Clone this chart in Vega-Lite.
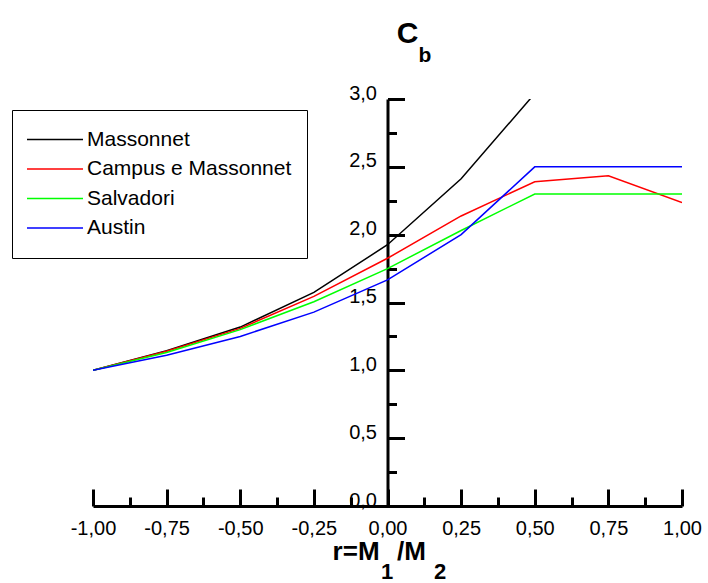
{
  "$schema": "https://vega.github.io/schema/vega-lite/v6.json",
  "width": 589,
  "height": 407,
  "autosize": {"type": "none"},
  "padding": {"left": 93, "top": 99, "right": 26, "bottom": 77},
  "background": "white",
  "config": {
    "view": {"stroke": null},
    "font": "Liberation Sans",
    "text": {"font": "Liberation Sans", "color": "black"}
  },
  "datasets": {
    "curves": [
      {"r": -1.0, "Cb": 1.0, "series": "Massonnet"},
      {"r": -0.75, "Cb": 1.144, "series": "Massonnet"},
      {"r": -0.5, "Cb": 1.319, "series": "Massonnet"},
      {"r": -0.25, "Cb": 1.574, "series": "Massonnet"},
      {"r": 0.0, "Cb": 1.926, "series": "Massonnet"},
      {"r": 0.25, "Cb": 2.412, "series": "Massonnet"},
      {"r": 0.5, "Cb": 3.04, "series": "Massonnet"},
      {"r": -1.0, "Cb": 1.0, "series": "Campus e Massonnet"},
      {"r": -0.75, "Cb": 1.14, "series": "Campus e Massonnet"},
      {"r": -0.5, "Cb": 1.309, "series": "Campus e Massonnet"},
      {"r": -0.25, "Cb": 1.545, "series": "Campus e Massonnet"},
      {"r": 0.0, "Cb": 1.826, "series": "Campus e Massonnet"},
      {"r": 0.25, "Cb": 2.138, "series": "Campus e Massonnet"},
      {"r": 0.5, "Cb": 2.39, "series": "Campus e Massonnet"},
      {"r": 0.75, "Cb": 2.434, "series": "Campus e Massonnet"},
      {"r": 1.0, "Cb": 2.236, "series": "Campus e Massonnet"},
      {"r": -1.0, "Cb": 1.0, "series": "Salvadori"},
      {"r": -0.75, "Cb": 1.131, "series": "Salvadori"},
      {"r": -0.5, "Cb": 1.3, "series": "Salvadori"},
      {"r": -0.25, "Cb": 1.506, "series": "Salvadori"},
      {"r": 0.0, "Cb": 1.75, "series": "Salvadori"},
      {"r": 0.25, "Cb": 2.031, "series": "Salvadori"},
      {"r": 0.5, "Cb": 2.3, "series": "Salvadori"},
      {"r": 0.75, "Cb": 2.3, "series": "Salvadori"},
      {"r": 1.0, "Cb": 2.3, "series": "Salvadori"},
      {"r": -1.0, "Cb": 1.0, "series": "Austin"},
      {"r": -0.75, "Cb": 1.111, "series": "Austin"},
      {"r": -0.5, "Cb": 1.25, "series": "Austin"},
      {"r": -0.25, "Cb": 1.429, "series": "Austin"},
      {"r": 0.0, "Cb": 1.667, "series": "Austin"},
      {"r": 0.25, "Cb": 2.0, "series": "Austin"},
      {"r": 0.5, "Cb": 2.5, "series": "Austin"},
      {"r": 0.75, "Cb": 2.5, "series": "Austin"},
      {"r": 1.0, "Cb": 2.5, "series": "Austin"}
    ],
    "one": [{"label": "title"}]
  },
  "resolve": {"axis": {"x": "independent", "y": "independent"}},
  "layer": [
    {
      "data": {"name": "curves"},
      "mark": {"type": "line", "clip": true, "strokeWidth": 1.5},
      "encoding": {
        "x": {
          "field": "r", "type": "quantitative",
          "scale": {"domain": [-1, 1], "nice": false, "zero": false},
          "axis": {
            "orient": "bottom", "title": null, "grid": false,
            "values": [-1, -0.75, -0.5, -0.25, 0, 0.25, 0.5, 0.75, 1],
            "labelExpr": "(datum.value < 0 ? '-' : '') + replace(format(abs(datum.value), '.2f'), '.', ',')",
            "domainColor": "black", "domainWidth": 3,
            "tickColor": "black", "tickWidth": 3, "tickSize": -17,
            "labelPadding": 29, "labelBaseline": "top", "labelFontSize": 20,
            "labelFont": "Liberation Sans", "labelColor": "black",
            "labelFlush": false, "labelOverlap": false
          }
        },
        "y": {
          "field": "Cb", "type": "quantitative",
          "scale": {"domain": [0, 3], "nice": false, "zero": true},
          "axis": {
            "orient": "left", "offset": -294.5, "title": null, "grid": false,
            "values": [0, 0.5, 1, 1.5, 2, 2.5, 3],
            "labelExpr": "replace(format(datum.value, '.1f'), '.', ',')",
            "domainColor": "black", "domainWidth": 3,
            "tickColor": "black", "tickWidth": 3, "tickSize": -17,
            "labelPadding": 28, "labelAlign": "right", "labelBaseline": "alphabetic",
            "labelFontSize": 20, "labelFont": "Liberation Sans", "labelColor": "black",
            "labelFlush": false, "labelOverlap": false
          }
        },
        "color": {
          "field": "series", "type": "nominal",
          "scale": {
            "domain": ["Massonnet", "Campus e Massonnet", "Salvadori", "Austin"],
            "range": ["#000000", "#ff0000", "#00ff00", "#0000ff"]
          },
          "legend": {
            "title": null, "orient": "none", "legendX": -81, "legendY": 11,
            "symbolType": "stroke", "symbolSize": 3249, "symbolStrokeWidth": 1.5,
            "labelFont": "Liberation Sans", "labelFontSize": 21, "labelColor": "black",
            "labelLimit": 400, "clipHeight": 29, "rowPadding": 0.5, "padding": 15,
            "labelOffset": 3, "symbolOffset": -2,
            "strokeColor": "black", "fillColor": "white"
          }
        }
      }
    },
    {
      "data": {"name": "one"},
      "mark": {"type": "text", "align": "left", "baseline": "alphabetic", "fontSize": 30, "fontWeight": "bold", "font": "Liberation Sans"},
      "encoding": {
        "text": {"value": "C"},
        "x": {
          "datum": 0.0316, "type": "quantitative",
          "axis": {
            "orient": "bottom", "title": null, "grid": false, "labels": false, "domain": false,
            "values": [-0.875, -0.625, -0.375, -0.125, 0.125, 0.375, 0.625, 0.875],
            "tickColor": "black", "tickWidth": 3, "tickSize": -9
          }
        },
        "y": {
          "datum": 3.414, "type": "quantitative",
          "axis": {
            "orient": "left", "offset": -294.5, "title": null, "grid": false, "labels": false, "domain": false,
            "values": [0.25, 0.75, 1.25, 1.75, 2.25, 2.75],
            "tickColor": "black", "tickWidth": 3, "tickSize": -9
          }
        }
      }
    },
    {
      "data": {"name": "one"},
      "mark": {"type": "text", "align": "left", "baseline": "alphabetic", "fontSize": 21, "fontWeight": "bold", "font": "Liberation Sans"},
      "encoding": {
        "text": {"value": "b"},
        "x": {"datum": 0.1054, "type": "quantitative", "axis": null},
        "y": {"datum": 3.276, "type": "quantitative", "axis": null}
      }
    },
    {
      "data": {"name": "one"},
      "mark": {"type": "text", "align": "right", "baseline": "alphabetic", "fontSize": 26, "fontWeight": "bold", "font": "Liberation Sans"},
      "encoding": {
        "text": {"value": "r=M"},
        "x": {"datum": -0.027, "type": "quantitative", "axis": null},
        "y": {"datum": -0.396, "type": "quantitative", "axis": null}
      }
    },
    {
      "data": {"name": "one"},
      "mark": {"type": "text", "align": "left", "baseline": "alphabetic", "fontSize": 22, "fontWeight": "bold", "font": "Liberation Sans"},
      "encoding": {
        "text": {"value": "1"},
        "x": {"datum": -0.022, "type": "quantitative", "axis": null},
        "y": {"datum": -0.54, "type": "quantitative", "axis": null}
      }
    },
    {
      "data": {"name": "one"},
      "mark": {"type": "text", "align": "left", "baseline": "alphabetic", "fontSize": 26, "fontWeight": "bold", "font": "Liberation Sans"},
      "encoding": {
        "text": {"value": "/M"},
        "x": {"datum": 0.032, "type": "quantitative", "axis": null},
        "y": {"datum": -0.396, "type": "quantitative", "axis": null}
      }
    },
    {
      "data": {"name": "one"},
      "mark": {"type": "text", "align": "left", "baseline": "alphabetic", "fontSize": 22, "fontWeight": "bold", "font": "Liberation Sans"},
      "encoding": {
        "text": {"value": "2"},
        "x": {"datum": 0.158, "type": "quantitative", "axis": null},
        "y": {"datum": -0.54, "type": "quantitative", "axis": null}
      }
    }
  ]
}
